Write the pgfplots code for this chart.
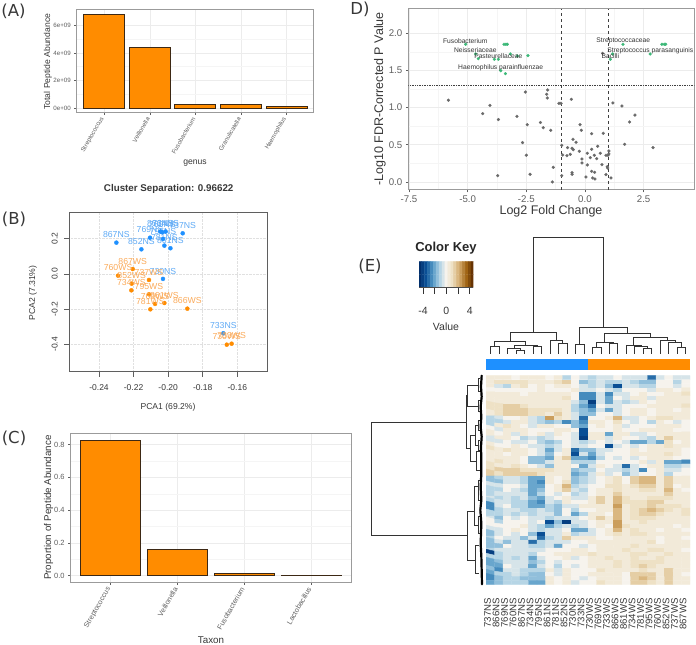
\documentclass[border=0pt]{standalone}
\usepackage{pgfplots}
\pgfplotsset{compat=1.18}
\usepackage{fontspec}
\setmainfont{Liberation Sans}
\newfontfamily\dv{DejaVu Sans}
\definecolor{orng}{RGB}{255,140,0}
\definecolor{dblue}{RGB}{30,144,255}
\definecolor{lorng}{RGB}{250,170,90}
\definecolor{lblue}{RGB}{95,170,245}
\definecolor{grn}{RGB}{60,184,120}
\definecolor{pts}{RGB}{105,105,105}
\definecolor{bord}{RGB}{155,155,155}
\definecolor{gmaj}{RGB}{236,236,236}
\definecolor{gmin}{RGB}{245,245,245}
\definecolor{tk}{RGB}{95,95,95}
\definecolor{txt}{RGB}{55,55,55}
\definecolor{edge}{RGB}{60,40,20}
\pgfplotsset{
 colormap={hm}{rgb255=(0,42,102) rgb255=(10,79,150) rgb255=(79,150,196) rgb255=(172,208,228) rgb255=(246,243,237) rgb255=(237,222,190) rgb255=(210,168,104) rgb255=(160,100,20) rgb255=(94,44,0)},
 base/.style={scale only axis,anchor=south west,enlargelimits=false,clip=true},
 gg/.style={base,axis line style={draw=bord,line width=1pt},tick align=outside,tick pos=left,
   major tick length=2.5pt,minor tick length=0pt,tick style={draw=tk,line width=.6pt},
   grid=both,major grid style={draw=gmaj,line width=.6pt},minor grid style={draw=gmin,line width=.5pt},
   scaled y ticks=false,scaled x ticks=false},
}
\begin{document}
\begin{tikzpicture}
\path[use as bounding box] (0,0) rectangle (696pt,645pt);
% ---------- A
\begin{axis}[gg,at={(76.9pt,532.7pt)},width=237.1pt,height=102.3pt,
  xmin=0.4,xmax=5.6,ymin=-0.31e9,ymax=7.11e9,
  xtick={1,2,3,4,5},xticklabels={Streptococcus,Veillonella,Fusobacterium,Granulicatella,Haemophilus},
  ytick={0,2e9,4e9,6e9},yticklabels={0e+00,2e+09,4e+09,6e+09},minor y tick num=1,
  x tick label style={rotate=60,anchor=east,font=\fontsize{6.2}{7}\selectfont,text=tk},
  y tick label style={font=\fontsize{6.2}{7}\selectfont,text=tk},
  ybar,bar width=41pt]
\addplot[fill=orng,draw=edge,line width=1pt] coordinates {(1,6.75e9)(2,4.4e9)(3,0.29e9)(4,0.22e9)(5,0.13e9)};
\end{axis}
% ---------- C
\begin{axis}[gg,at={(70.6pt,62.7pt)},width=280.8pt,height=149pt,
  xmin=0.4,xmax=4.6,ymin=-0.04,ymax=0.869,
  xtick={1,2,3,4},xticklabels={Streptococcus,Veillonella,Fusobacterium,Lactobacillus},
  ytick={0,0.2,0.4,0.6,0.8},yticklabels={0.0,0.2,0.4,0.6,0.8},minor y tick num=1,
  x tick label style={rotate=60,anchor=east,font=\fontsize{7.2}{8}\selectfont,text=tk},
  y tick label style={font=\fontsize{7.5}{8}\selectfont,text=tk},
  ybar,bar width=60pt]
\addplot[fill=orng,draw=edge,line width=1pt] coordinates {(1,0.827)(2,0.161)(3,0.014)(4,0.002)};
\end{axis}
% ---------- B
\begin{axis}[base,at={(69.3pt,273.3pt)},width=198pt,height=159pt,
  xmin=-0.2572,xmax=-0.14265,ymin=-0.555,ymax=0.348,
  axis line style={draw=tk,line width=.8pt},tick align=outside,tick pos=left,
  major tick length=5pt,tick style={draw=tk,line width=.7pt},
  grid=major,major grid style={draw=black!12,densely dotted,line width=.6pt},
  scaled x ticks=false,scaled y ticks=false,
  xtick={-0.24,-0.22,-0.20,-0.18,-0.16},xticklabels={-0.24,-0.22,-0.20,-0.18,-0.16},
  ytick={-0.4,-0.2,0,0.2},yticklabels={-0.4,-0.2,0.0,0.2},
  xticklabel shift=4pt,yticklabel shift=3pt,
  x tick label style={font=\fontsize{8.5}{9}\selectfont,text=txt},
  y tick label style={font=\fontsize{8.5}{9}\selectfont,text=txt,rotate=90,anchor=south},
  nodes near coords,point meta=explicit symbolic,clip=false]
\addplot[only marks,mark=*,mark size=2pt,mark options={draw=dblue,fill=dblue},
  nodes near coords style={font=\fontsize{8.7}{9}\selectfont,text=lblue,anchor=center,yshift=7.7pt}]
  table[meta=l]{
x y l
-0.22997 0.178 867NS
-0.2155 0.140 852NS
-0.1987 0.146 861NS
-0.2022 0.161 781NS
-0.2030 0.199 795NS
-0.2105 0.206 769NS
-0.2045 0.2405 866NS
-0.2034 0.237 760NS
-0.2015 0.2405 734NS
-0.1916 0.231 737NS
-0.2030 -0.028 730NS
-0.1681 -0.337 733NS
};
\addplot[only marks,mark=*,mark size=2pt,mark options={draw=orng,fill=orng},
  nodes near coords style={font=\fontsize{8.7}{9}\selectfont,text=lorng,anchor=center,yshift=7.7pt}]
  table[meta=l]{
x y l
-0.2205 0.028 867WS
-0.2290 -0.0095 760WS
-0.2111 -0.034 737WS
-0.2211 -0.055 852WS
-0.2213 -0.093 734WS
-0.2111 -0.1155 795WS
-0.2076 -0.170 769WS
-0.2022 -0.165 861WS
-0.2103 -0.2008 781WS
-0.1889 -0.197 866WS
-0.1661 -0.4015 730WS
-0.1633 -0.396 733WS
};
\end{axis}
% ---------- D
\begin{axis}[gg,at={(408.3pt,455pt)},width=286pt,height=181pt,
  xmin=-7.53,xmax=4.66,ymin=-0.108,ymax=2.327,
  xtick={-7.5,-5,-2.5,0,2.5},xticklabels={-7.5,-5.0,-2.5,0.0,2.5},
  ytick={0,0.5,1,1.5,2},yticklabels={0.0,0.5,1.0,1.5,2.0},minor tick num=1,
  x tick label style={font=\fontsize{9.7}{10}\selectfont,text=tk},
  y tick label style={font=\fontsize{9.7}{10}\selectfont,text=tk}]
\addplot[draw=black!75,dashed,line width=.7pt] coordinates {(-1,-0.108)(-1,2.327)};
\addplot[draw=black!75,dashed,line width=.7pt] coordinates {(1,-0.108)(1,2.327)};
\addplot[draw=black!75,densely dotted,line width=.7pt] coordinates {(-7.53,1.3)(4.66,1.3)};
\addplot[only marks,mark=*,mark size=1.5pt,mark options={draw=pts,fill=pts,line width=.2pt}] table{
-5.82 1.10
-4.05 1.03
-4.36 0.92
-3.69 0.84
-2.90 0.883
-2.54 1.21
-1.59 1.238
-1.63 1.18
-1.605 1.13
-1.11 1.058
-1.02 1.058
-0.58 1.112
-2.46 0.77
-1.90 0.80
-1.78 0.73
-1.46 0.695
-2.66 0.53
-2.5 0.36
-2.34 0.103
-3.72 0.085
-1.35 0.197
-1.39 0.0
-0.99 0.493
-0.95 0.363
-0.99 0.085
-0.77 0.354
-0.625 0.372
-0.74 0.462
-0.55 0.453
-0.50 0.435
-0.51 0.574
-0.38 0.534
-0.24 0.413
-0.21 0.771
-0.156 0.695
-0.55 0.126
-0.55 0.103
-0.128 0.309
-0.128 0.256
0.10 0.386
0.10 0.229
0.043 0.067
0.227 0.327
0.284 0.44
0.284 0.65
0.284 0.143
0.41 0.13
0.327 0.054
0.426 0.04
0.40 0.359
0.497 0.314
0.54 0.48
0.653 0.386
0.724 0.233
0.78 0.655
0.895 0.099
0.895 0.359
0.98 0.359
1.02 0.417
1.02 0.377
0.95 0.206
0.966 0.188
1.108 0.054
1.19 1.063
1.577 1.022
2.13 0.90
1.90 0.807
1.69 0.507
2.90 0.462
0.75 1.73
};
\addplot[only marks,mark=*,mark size=1.5pt,mark options={draw=grn,fill=grn,line width=.2pt}] table{
-5.085 1.852
-3.45 1.852
-3.37 1.852
-3.31 1.852
-4.66 1.722
-4.545 1.659
-3.86 1.65
-3.69 1.65
-3.18 1.722
-2.88 1.695
-2.43 1.70
-3.59 1.498
-3.39 1.457
1.62 1.852
3.28 1.852
3.38 1.852
3.44 1.852
2.78 1.722
1.18 1.722
1.08 1.65
};
\end{axis}
% ---------- key
\begin{axis}[base,at={(419pt,357.7pt)},width=54.3pt,height=25.6pt,colormap name=hm,
  xmin=-4.69,xmax=4.62,ymin=-0.5,ymax=1.5,point meta min=-9.3,point meta max=9.3,
  axis on top,axis line style={draw=black!70,line width=.7pt},
  ytick=\empty,axis x line*=bottom,axis y line=none,
  xtick={-4,-2,0,2,4},xticklabels={-4,,0,,4},tick align=outside,major tick length=6.7pt,
  tick style={draw=black!80,line width=.7pt},
  x tick label style={font=\fontsize{10.5}{11}\selectfont,text=txt,yshift=-10pt}]
\addplot[matrix plot*,mesh/cols=19,point meta=explicit] table[meta=c]{
x y c
-4.5 0 -9
-4 0 -8
-3.5 0 -7
-3 0 -6
-2.5 0 -5
-2 0 -4
-1.5 0 -3
-1 0 -2
-0.5 0 -1
0 0 0
0.5 0 1
1 0 2
1.5 0 3
2 0 4
2.5 0 5
3 0 6
3.5 0 7
4 0 8
4.5 0 9
-4.5 1 -9
-4 1 -8
-3.5 1 -7
-3 1 -6
-2.5 1 -5
-2 1 -4
-1.5 1 -3
-1 1 -2
-0.5 1 -1
0 1 0
0.5 1 1
1 1 2
1.5 1 3
2 1 4
2.5 1 5
3 1 6
3.5 1 7
4 1 8
4.5 1 9
};
\end{axis}
% ---------- heat
\begin{axis}[base,at={(486pt,60.7pt)},width=204pt,height=208.6pt,colormap name=hm,hide axis,
  xmin=-0.5,xmax=23.5,ymin=-0.5,ymax=51.5,y dir=reverse,point meta min=-9.3,point meta max=9.3]
\addplot[matrix plot*,mesh/cols=24,point meta=explicit] table[row sep=crcr,header=false,
   x expr={mod(\coordindex,24)},y expr={floor(\coordindex/24)},meta index=0]{
1\\1\\1\\0\\1\\1\\1\\0\\1\\-2\\0\\-1\\-2\\-1\\-1\\0\\-1\\-1\\-1\\-6\\-1\\0\\-1\\-1\\
1\\2\\2\\2\\2\\1\\1\\1\\2\\3\\0\\-3\\-2\\-1\\-2\\-2\\-1\\-2\\-3\\-3\\0\\0\\-2\\0\\
1\\-1\\-2\\1\\2\\0\\1\\0\\1\\1\\0\\-1\\-2\\-1\\-3\\-7\\-1\\-1\\-2\\-2\\0\\0\\-1\\0\\
0\\0\\0\\0\\0\\0\\1\\0\\0\\0\\1\\-1\\-1\\0\\-1\\-2\\0\\0\\0\\-1\\1\\1\\0\\1\\
1\\1\\1\\1\\0\\1\\1\\1\\1\\1\\0\\-5\\-5\\-1\\-5\\-1\\-1\\0\\1\\0\\0\\1\\1\\2\\
1\\1\\1\\1\\1\\1\\1\\1\\1\\2\\0\\-5\\-5\\-1\\-4\\0\\-1\\1\\1\\-1\\1\\1\\1\\1\\
1\\1\\1\\1\\1\\1\\1\\1\\1\\1\\-1\\-3\\-8\\-1\\-4\\-1\\-2\\-1\\1\\0\\1\\1\\1\\1\\
2\\2\\3\\3\\2\\1\\1\\1\\1\\1\\-2\\-4\\-6\\0\\-1\\-1\\0\\0\\0\\1\\1\\1\\1\\2\\
2\\2\\3\\3\\3\\2\\2\\2\\2\\1\\-2\\-3\\-4\\-1\\-4\\-1\\0\\1\\1\\0\\1\\1\\0\\1\\
1\\2\\3\\3\\3\\2\\2\\1\\3\\1\\-1\\-3\\-3\\0\\0\\-1\\0\\1\\1\\0\\1\\1\\1\\1\\
-2\\-1\\0\\0\\1\\-1\\-2\\5\\2\\1\\-1\\-6\\0\\0\\1\\4\\-1\\-1\\0\\1\\2\\2\\1\\1\\
-2\\-2\\-1\\1\\1\\-1\\-2\\-3\\-2\\-5\\-3\\-5\\1\\1\\0\\2\\0\\-1\\0\\-2\\1\\0\\-1\\0\\
-2\\1\\2\\1\\0\\-1\\1\\1\\0\\0\\-3\\-4\\0\\1\\0\\1\\-1\\0\\0\\0\\1\\1\\1\\0\\
0\\-1\\1\\1\\1\\0\\0\\0\\1\\1\\0\\-7\\0\\0\\0\\1\\0\\0\\1\\1\\1\\1\\0\\0\\
1\\0\\1\\-1\\1\\0\\1\\-1\\1\\0\\-1\\-7\\1\\1\\-4\\1\\1\\-1\\-1\\0\\1\\1\\1\\1\\
-1\\1\\1\\0\\-2\\-1\\-2\\-1\\0\\0\\-1\\-8\\1\\1\\-1\\1\\0\\0\\-1\\-2\\1\\3\\1\\1\\
-1\\-1\\0\\-1\\-1\\0\\-2\\-3\\-2\\0\\-1\\-2\\-1\\0\\-1\\0\\-1\\-4\\-4\\-2\\-4\\2\\0\\1\\
1\\0\\0\\1\\0\\-1\\-1\\-2\\-1\\0\\-1\\-1\\0\\0\\-7\\-1\\0\\-1\\0\\1\\1\\2\\1\\1\\
2\\1\\2\\1\\1\\0\\-1\\-4\\-1\\1\\-6\\-3\\-3\\-1\\-1\\0\\0\\1\\0\\1\\1\\1\\1\\0\\
1\\1\\0\\1\\1\\0\\-1\\-3\\0\\1\\-7\\-1\\-4\\-1\\0\\0\\0\\1\\1\\1\\1\\2\\1\\0\\
1\\1\\1\\1\\0\\-3\\-3\\-4\\1\\3\\-4\\-4\\-5\\-2\\0\\-1\\0\\-1\\0\\1\\1\\1\\0\\0\\
1\\2\\1\\1\\0\\-3\\-3\\-1\\1\\1\\-2\\-2\\-2\\0\\0\\0\\0\\0\\1\\-1\\1\\-4\\-4\\-5\\
2\\1\\1\\2\\1\\0\\-1\\-3\\1\\1\\0\\-4\\-1\\1\\0\\-1\\-6\\-1\\0\\1\\1\\-2\\-2\\-1\\
2\\3\\3\\3\\2\\2\\2\\2\\1\\1\\-3\\-2\\-2\\0\\-1\\-1\\-2\\-1\\-5\\0\\1\\-1\\-1\\0\\
3\\2\\3\\3\\3\\3\\2\\1\\1\\1\\-4\\-3\\-1\\1\\-1\\0\\-3\\-1\\0\\0\\1\\-2\\0\\0\\
-3\\-2\\-1\\-1\\-2\\-4\\-4\\1\\0\\1\\-3\\-2\\-1\\0\\1\\2\\0\\3\\4\\4\\1\\3\\1\\1\\
-3\\-3\\-1\\-1\\-2\\-4\\-5\\1\\0\\2\\-3\\-2\\-1\\0\\1\\2\\0\\3\\4\\4\\1\\3\\1\\1\\
-1\\-1\\0\\0\\-1\\-4\\-4\\0\\1\\4\\-2\\-1\\0\\0\\2\\2\\1\\2\\3\\3\\1\\3\\0\\1\\
-2\\-2\\0\\-1\\-2\\-4\\-3\\0\\1\\3\\-1\\-2\\0\\1\\1\\2\\1\\1\\2\\2\\1\\4\\1\\0\\
-2\\-1\\-1\\-1\\-1\\-4\\-2\\0\\-1\\0\\-2\\-1\\0\\1\\1\\3\\1\\1\\1\\1\\1\\3\\1\\1\\
-1\\-2\\-1\\-2\\-1\\-3\\-4\\-1\\0\\1\\-1\\-1\\1\\3\\1\\4\\2\\1\\1\\2\\2\\2\\1\\1\\
-2\\-1\\-1\\-2\\-2\\-4\\-5\\-1\\-2\\1\\0\\0\\1\\3\\1\\4\\2\\2\\2\\3\\3\\1\\1\\1\\
-5\\-1\\0\\-2\\-2\\-4\\-4\\-2\\-3\\-1\\-1\\1\\1\\1\\1\\5\\1\\2\\2\\3\\2\\2\\2\\1\\
-5\\-2\\-1\\-1\\-2\\-2\\-1\\-2\\-3\\0\\-2\\0\\0\\1\\1\\4\\1\\2\\3\\4\\3\\2\\1\\2\\
-2\\-2\\-1\\-2\\-1\\-2\\-1\\-1\\-3\\0\\-4\\-2\\1\\1\\0\\4\\1\\2\\3\\3\\2\\1\\1\\2\\
-1\\-3\\0\\-1\\0\\-1\\-1\\-2\\-1\\-1\\-1\\0\\1\\3\\1\\4\\1\\2\\2\\2\\1\\1\\1\\1\\
0\\-2\\0\\0\\0\\-1\\0\\-7\\-3\\-8\\-1\\-1\\0\\1\\1\\5\\1\\1\\2\\1\\1\\1\\1\\1\\
0\\0\\0\\0\\1\\-1\\-2\\-4\\-2\\-1\\-2\\-1\\0\\1\\0\\5\\2\\1\\1\\1\\1\\1\\0\\1\\
-1\\-1\\0\\1\\0\\-1\\-2\\-1\\-1\\0\\-4\\-4\\-1\\0\\1\\4\\1\\2\\1\\1\\0\\1\\1\\0\\
-3\\-1\\0\\-1\\0\\-3\\-7\\-1\\-1\\1\\-2\\-1\\-1\\0\\1\\2\\1\\2\\2\\1\\1\\1\\1\\1\\
-2\\0\\-1\\-1\\-3\\-1\\-6\\-2\\-1\\3\\1\\1\\1\\0\\0\\1\\1\\1\\1\\1\\0\\1\\1\\0\\
-3\\-1\\-3\\-1\\-1\\-6\\-2\\-1\\-1\\-1\\0\\0\\1\\1\\1\\1\\1\\1\\1\\2\\0\\1\\1\\1\\
-3\\-3\\0\\-1\\-1\\-2\\-2\\-1\\-4\\0\\0\\-1\\0\\1\\1\\1\\1\\2\\1\\1\\1\\1\\1\\1\\
-2\\-1\\-1\\-1\\-1\\-1\\-1\\0\\0\\0\\1\\1\\0\\1\\1\\1\\2\\1\\1\\2\\2\\1\\1\\0\\
-8\\-2\\-1\\-1\\-1\\-2\\0\\0\\1\\1\\1\\1\\2\\1\\1\\1\\1\\2\\2\\1\\1\\2\\1\\1\\
-2\\-2\\-1\\-2\\-1\\-4\\-1\\0\\0\\1\\-1\\0\\1\\1\\2\\1\\1\\2\\1\\1\\2\\1\\1\\1\\
-4\\-3\\-1\\-1\\-1\\-3\\-2\\0\\-1\\0\\0\\0\\1\\1\\1\\2\\1\\2\\2\\2\\2\\1\\1\\1\\
-4\\-4\\0\\-1\\-1\\-4\\-1\\0\\-2\\0\\-1\\0\\1\\1\\1\\2\\1\\2\\3\\2\\1\\1\\1\\1\\
-3\\-5\\-1\\-1\\-2\\-2\\-2\\1\\-1\\1\\0\\0\\0\\2\\1\\1\\1\\1\\2\\1\\1\\3\\1\\1\\
-4\\-2\\-2\\-1\\-2\\-3\\-3\\0\\-1\\1\\0\\0\\1\\1\\1\\1\\0\\3\\3\\3\\1\\3\\1\\0\\
-5\\-3\\-2\\-2\\-3\\-3\\-3\\1\\0\\1\\0\\-1\\0\\1\\1\\1\\0\\3\\4\\3\\1\\3\\1\\1\\
-4\\-3\\-2\\-2\\-2\\-4\\-4\\1\\0\\1\\-1\\0\\0\\2\\1\\1\\0\\3\\3\\2\\1\\3\\1\\1\\
};
\end{axis}
% ---------- top dendrogram and colour bar
\begin{axis}[base,at={(330pt,265pt)},width=366pt,height=160pt,hide axis,
  xmin=0,xmax=1098,ymin=0,ymax=480,y dir=reverse]
\addplot[fill=dblue,draw=none] coordinates {(469,417)(774,417)(774,449)(469,449)} --cycle;
\addplot[fill=orng,draw=none] coordinates {(774,417)(1080,417)(1080,449)(774,449)} --cycle;
\addplot[draw=black!80,line width=.8pt,unbounded coords=jump] coordinates {
(610,336)(610,52)(821,52)(821,323)(nan,nan)
(540,365)(540,336)(680,336)(680,362)(nan,nan)
(494.5,380)(494.5,365)(587,365)(587,375)(nan,nan)
(481.7,402)(481.7,380)(507.2,380)(507.2,402)(nan,nan)
(552,385)(552,375)(621.7,375)(621.7,380)(nan,nan)
(532.6,402)(532.6,385)(570.8,385)(570.8,390)(nan,nan)
(558.1,402)(558.1,390)(583.6,390)(583.6,402)(nan,nan)
(609,402)(609,380)(634.5,380)(634.5,402)(nan,nan)
(660,402)(660,362)(698,362)(698,370)(nan,nan)
(685.4,402)(685.4,370)(710.9,370)(710.9,402)(nan,nan)
(749,374)(749,323)(893,323)(893,340)(nan,nan)
(736.3,402)(736.3,374)(761.8,374)(761.8,402)(nan,nan)
(824,367)(824,340)(962,340)(962,352)(nan,nan)
(800,381)(800,367)(851,367)(851,371)(nan,nan)
(787.3,402)(787.3,381)(812.7,381)(812.7,402)(nan,nan)
(838.2,402)(838.2,371)(863.6,371)(863.6,402)(nan,nan)
(911,375)(911,352)(1013,352)(1013,362)(nan,nan)
(889.1,402)(889.1,375)(933.7,375)(933.7,378)(nan,nan)
(914.6,402)(914.6,378)(952.7,378)(952.7,384)(nan,nan)
(940,402)(940,384)(965.5,384)(965.5,402)(nan,nan)
(991,402)(991,362)(1035.5,362)(1035.5,366)(nan,nan)
(1016.4,402)(1016.4,366)(1054.6,366)(1054.6,382)(nan,nan)
(1041.9,402)(1041.9,382)(1067.3,382)(1067.3,402)
};
\end{axis}
% ---------- left dendrogram
\begin{axis}[base,at={(330pt,45pt)},width=160pt,height=240pt,hide axis,
  xmin=0,xmax=480,ymin=0,ymax=720,y dir=reverse]
\addplot[draw=black!80,line width=.8pt,unbounded coords=jump] coordinates {
(410,186)(123,186)(123,527)(411,527)(nan,nan)
(410,106)(410,265)(422,265)(nan,nan)
(410,106)(413,106)(nan,nan)
(445,75)(413,75)(413,138)(445,138)(nan,nan)
(435,225)(422,225)(422,305)(438,305)(nan,nan)
(445,195)(435,195)(435,255)(445,255)(nan,nan)
(450,275)(438,275)(438,330)(450,330)(nan,nan)
(450,55)(445,55)(445,95)(450,95)(nan,nan)
(450,120)(445,120)(445,155)(450,155)(nan,nan)
(450,180)(445,180)(445,210)(450,210)(nan,nan)
(450,240)(445,240)(445,270)(450,270)(nan,nan)
(411,455)(411,600)(nan,nan)
(433,455)(411,455)(nan,nan)
(411,600)(435,600)(nan,nan)
(445,380)(433,380)(433,495)(445,495)(nan,nan)
(450,360)(445,360)(445,420)(450,420)(nan,nan)
(450,470)(445,470)(445,520)(450,520)(nan,nan)
(448,555)(435,555)(435,640)(448,640)
};
\addplot[draw=black,line width=2.2pt,line cap=round] coordinates {
(455,47)(453,80)(455,110)(452,140)(454,170)(452,200)(455,230)(453,260)(454,300)(454,340)(452,380)(454,420)(451,450)(454,490)(453,520)(452,550)(454,590)(455,630)(456,673)
};
\end{axis}
% ---------- texts
\begin{scope}[x=1pt,y=-1pt,yshift=645pt]
\node[font=\dv\fontsize{16.5}{17}\selectfont,text=txt] at (13.5,11) {(A)};
\node[font=\dv\fontsize{16.5}{17}\selectfont,text=txt] at (14,219) {(B)};
\node[font=\dv\fontsize{16.5}{17}\selectfont,text=txt] at (14,438) {(C)};
\node[font=\dv\fontsize{16.5}{17}\selectfont,text=txt] at (360,9) {D)};
\node[font=\dv\fontsize{16.5}{17}\selectfont,text=txt] at (370,266) {(E)};
\def\ss{\fontsize{8.6}{9}\selectfont}
\node[font=\ss,text=txt,rotate=90] at (48,61.7) {Total Peptide Abundance};
\node[font=\ss,text=txt] at (195,163) {genus};
\node[font=\bfseries\fontsize{9.8}{10}\selectfont,text=txt] at (168.7,189.3) {Cluster Separation: 0.96622};
\node[font=\ss,text=txt] at (168,407) {PCA1 (69.2\%)};
\node[font=\ss,text=txt,rotate=90] at (33,293) {PCA2 (7.31\%)};
\node[font=\fontsize{9.8}{10}\selectfont,text=txt,rotate=90] at (48.7,507.7) {Proportion of Peptide Abundance};
\node[font=\fontsize{9.8}{10}\selectfont,text=txt] at (211,640) {Taxon};
\node[font=\fontsize{12.5}{13}\selectfont,text=txt,rotate=90] at (380,99) {-Log10 FDR-Corrected P Value};
\node[font=\fontsize{12.5}{13}\selectfont,text=txt] at (551,211) {Log2 Fold Change};
\def\vs{\fontsize{6.7}{7}\selectfont}
\node[font=\vs,text=black!80] at (465.3,40.7) {Fusobacterium};
\node[font=\vs,text=black!80] at (475.3,50.3) {Neisseriaceae};
\node[font=\vs,text=black!80] at (498.3,56.3) {Pasteurellaceae};
\node[font=\vs,text=black!80] at (500.7,67.3) {Haemophilus parainfluenzae};
\node[font=\vs,text=black!80] at (623.3,40.7) {Streptococcaceae};
\node[font=\vs,text=black!80] at (650.3,50.3) {Streptococcus parasanguinis};
\node[font=\vs,text=black!80] at (610.3,56.3) {Bacilli};
\node[font=\bfseries\fontsize{13}{14}\selectfont,text=black!85] at (446,247.7) {Color Key};
\node[font=\fontsize{10.5}{11}\selectfont,text=txt] at (446,327) {Value};
\foreach \n [count=\i from 0] in {737NS,866NS,769NS,760NS,867NS,734NS,795NS,861NS,781NS,852NS,730NS,733NS,730WS,769WS,733WS,866WS,861WS,734WS,781WS,795WS,760WS,852WS,737WS,867WS}{
  \node[font=\fontsize{9.6}{10}\selectfont,text=txt,rotate=90,anchor=east,inner sep=0pt] at ({486+4.25-2.7+8.5*\i},598) {\n};
}
\end{scope}
\end{tikzpicture}
\end{document}
